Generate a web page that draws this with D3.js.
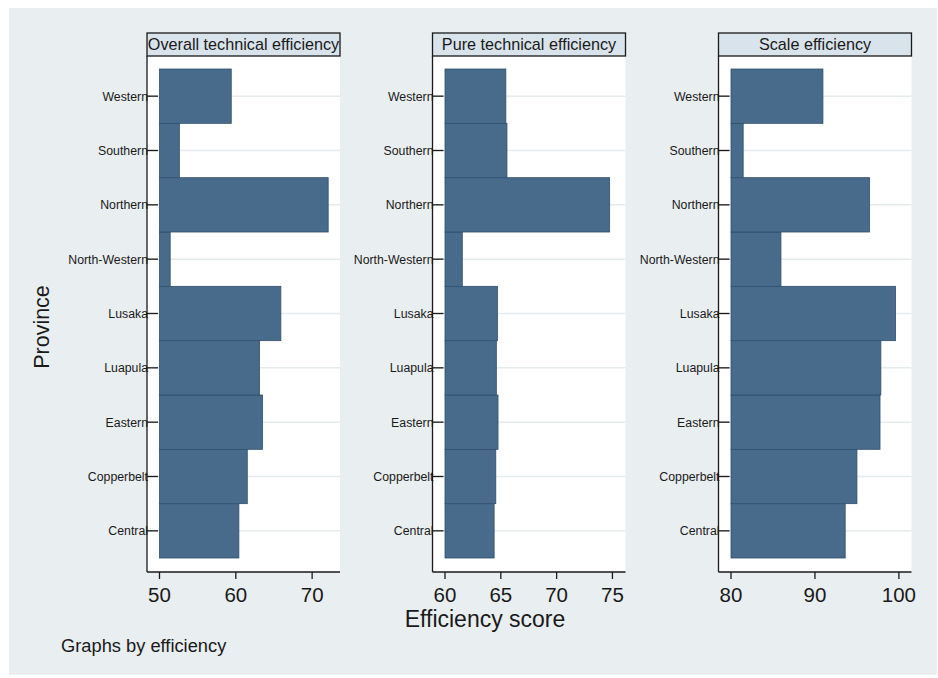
<!DOCTYPE html>
<html>
<head>
<meta charset="utf-8">
<script src="https://cdn.jsdelivr.net/npm/d3@7/dist/d3.min.js"></script>
<style>
  html, body { margin: 0; padding: 0; background: #ffffff; }
  svg { display: block; font-family: "Liberation Sans", Arial, sans-serif; }
</style>
</head>
<body>
<svg id="chart" width="938" height="678"></svg>
<script>
"use strict";

// provinces, bottom to top
const provinces = ["Central", "Copperbelt", "Eastern", "Luapula", "Lusaka", "North-Western", "Northern", "Southern", "Western"];
const overallTE = [60.4, 61.5, 63.5, 63.1, 65.9, 51.4, 72.1, 52.6, 59.4];
const pureTE = [64.4, 64.55, 64.75, 64.6, 64.7, 61.55, 74.75, 65.55, 65.45];
const scaleEff = [93.6, 95.0, 97.75, 97.85, 99.6, 85.95, 96.5, 81.45, 90.95];

const panelTitles = ["Overall technical efficiency", "Pure technical efficiency", "Scale efficiency"];
const panelBase = [50, 60, 80];
const panelMax = [73.65, 76.17, 101.5];
const panelTicks = [[50, 60, 70], [60, 65, 70, 75], [80, 90, 100]];
const panelValues = [overallTE, pureTE, scaleEff];

const BAR_FILL = "#496b8b";
const BAR_EDGE = "#2f4f6d";
const BG = "#e9eef1";
const STRIP_FILL = "#d9e3eb";

const svg = d3.select("#chart");
svg.append("rect").attr("x", 9).attr("y", 8).attr("width", 928).attr("height", 667).attr("fill", BG);

const panelLeft = [147, 432.5, 718.5];
const panelWidth = 193;
const stripTop = 33, plotTop = 56, plotBottom = 572;

const y = d3.scaleBand().domain(provinces).range([558, 69]).paddingInner(0).paddingOuter(0);

panelTitles.forEach(function drawPanel(title, p) {
  const left = panelLeft[p];
  const right = left + panelWidth;
  const x = d3.scaleLinear().domain([panelBase[p], panelMax[p]]).range([left + 12.5, right]);
  const g = svg.append("g").attr("class", "panel");

  // plot region
  g.append("rect").attr("x", left).attr("y", plotTop).attr("width", panelWidth).attr("height", plotBottom - plotTop).attr("fill", "#ffffff");

  // grid lines
  g.selectAll("line.grid").data(provinces).join("line").attr("class", "grid")
    .attr("x1", left).attr("x2", right)
    .attr("y1", function gy(d) { return y(d) + y.bandwidth() / 2; })
    .attr("y2", function gy(d) { return y(d) + y.bandwidth() / 2; })
    .attr("stroke", "#e6ebee").attr("stroke-width", 1.5);

  // bars
  const rows = provinces.map(function row(name, i) { return { name: name, value: panelValues[p][i] }; });
  g.selectAll("rect.bar").data(rows).join("rect").attr("class", "bar")
    .attr("x", x(panelBase[p]))
    .attr("y", function by(d) { return y(d.name); })
    .attr("width", function bw(d) { return x(d.value) - x(panelBase[p]); })
    .attr("height", y.bandwidth())
    .attr("fill", BAR_FILL).attr("stroke", BAR_EDGE).attr("stroke-width", 0.8);

  // y axis
  g.append("line").attr("x1", left).attr("x2", left).attr("y1", plotTop).attr("y2", plotBottom).attr("stroke", "#1a1a1a").attr("stroke-width", 1.3);
  g.selectAll("line.ytick").data(provinces).join("line").attr("class", "ytick")
    .attr("x1", left).attr("x2", left + 11)
    .attr("y1", function ty(d) { return y(d) + y.bandwidth() / 2; })
    .attr("y2", function ty(d) { return y(d) + y.bandwidth() / 2; })
    .attr("stroke", "#1a1a1a").attr("stroke-width", 1.3);
  g.selectAll("text.ylab").data(provinces).join("text").attr("class", "ylab")
    .attr("x", left + 1)
    .attr("y", function ly(d) { return y(d) + y.bandwidth() / 2 + 4.5; })
    .attr("text-anchor", "end").attr("font-size", 12.3).attr("fill", "#1a1a1a")
    .text(function lt(d) { return d; });

  // x axis
  g.append("line").attr("x1", left).attr("x2", right).attr("y1", plotBottom).attr("y2", plotBottom).attr("stroke", "#1a1a1a").attr("stroke-width", 1.3);
  g.selectAll("line.xtick").data(panelTicks[p]).join("line").attr("class", "xtick")
    .attr("x1", function tx(d) { return x(d); }).attr("x2", function tx(d) { return x(d); })
    .attr("y1", plotBottom).attr("y2", plotBottom + 7)
    .attr("stroke", "#1a1a1a").attr("stroke-width", 1.3);
  g.selectAll("text.xlab").data(panelTicks[p]).join("text").attr("class", "xlab")
    .attr("x", function lx(d) { return x(d); }).attr("y", 602)
    .attr("text-anchor", "middle").attr("font-size", 20.5).attr("fill", "#1a1a1a")
    .text(function lt(d) { return d; });

  // strip title
  g.append("rect").attr("x", left).attr("y", stripTop).attr("width", panelWidth).attr("height", plotTop - stripTop)
    .attr("fill", STRIP_FILL).attr("stroke", "#1a1a1a").attr("stroke-width", 1.3);
  g.append("text").attr("x", left + panelWidth / 2).attr("y", plotTop - 6)
    .attr("text-anchor", "middle").attr("font-size", 16.2).attr("fill", "#1a1a1a").text(title);
});

// axis titles and note
svg.append("text").attr("transform", "translate(49,327) rotate(-90)")
  .attr("text-anchor", "middle").attr("font-size", 21.5).attr("fill", "#1a1a1a").text("Province");
svg.append("text").attr("x", 485).attr("y", 627)
  .attr("text-anchor", "middle").attr("font-size", 23).attr("fill", "#1a1a1a").text("Efficiency score");
svg.append("text").attr("x", 61).attr("y", 652)
  .attr("font-size", 18.3).attr("fill", "#1a1a1a").text("Graphs by efficiency");
</script>
</body>
</html>
